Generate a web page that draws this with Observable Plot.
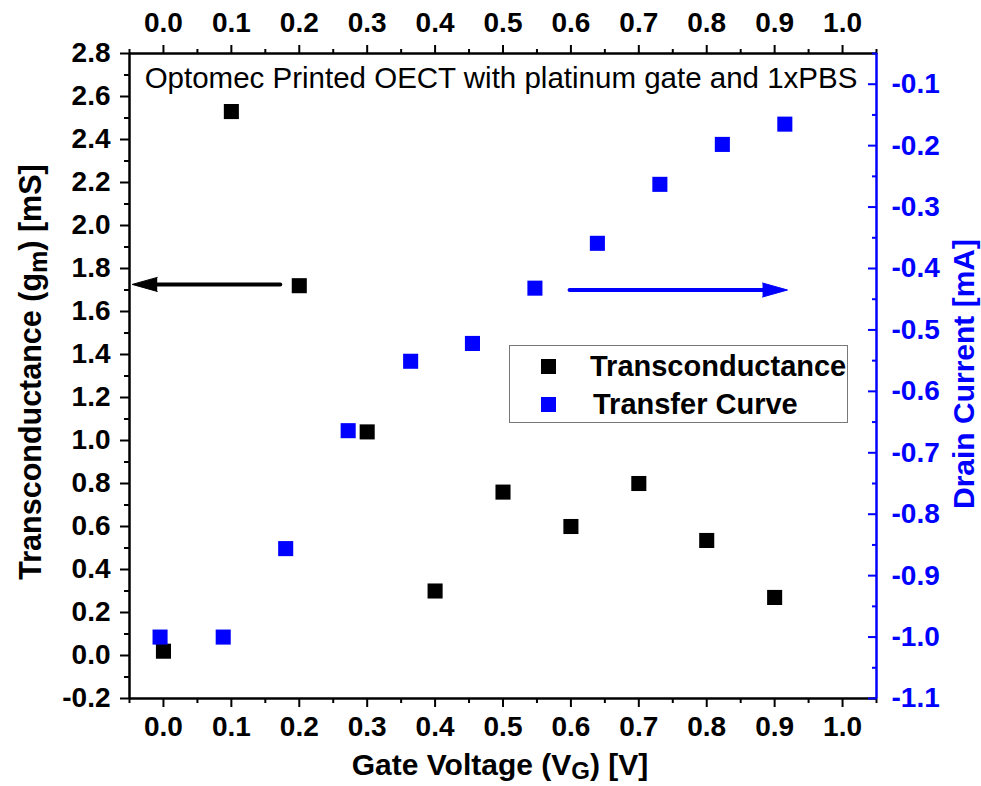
<!DOCTYPE html>
<html><head><meta charset="utf-8">
<script src="https://cdn.jsdelivr.net/npm/d3@7"></script>
<script src="https://cdn.jsdelivr.net/npm/@observablehq/plot@0.6"></script>
<style>
body{margin:0;background:#fff;}
#wrap{position:relative;width:981px;height:786px;font-family:"Liberation Sans",Arial,sans-serif;}
#legend{position:absolute;left:509px;top:345px;width:339px;height:78px;border:1.5px solid #777;box-sizing:border-box;background:#fff;font-weight:bold;font-size:29px;}
#legend .row{position:absolute;left:0;height:34px;line-height:34px;white-space:nowrap;}
#legend .sw{position:absolute;left:31px;top:10px;width:15px;height:15px;}
#legend .lab{position:absolute;left:80px;top:0;}
</style></head><body><div id="wrap"></div>
<script>
// Data
const gateV = [0.0, 0.1, 0.2, 0.3, 0.4, 0.5, 0.6, 0.7, 0.8, 0.9];
const transconductance = [0.02, 2.53, 1.72, 1.04, 0.30, 0.76, 0.60, 0.80, 0.535, 0.27];
const transferV = [-0.005, 0.088, 0.18, 0.272, 0.364, 0.455, 0.547, 0.639, 0.731, 0.823, 0.915];
const drainCurrent = [-1.0, -1.0, -0.856, -0.664, -0.551, -0.522, -0.432, -0.359, -0.263, -0.198, -0.165];

// Tick labels
const xTicks = [0.0, 0.1, 0.2, 0.3, 0.4, 0.5, 0.6, 0.7, 0.8, 0.9, 1.0];
const leftTicks = [-0.2, 0.0, 0.2, 0.4, 0.6, 0.8, 1.0, 1.2, 1.4, 1.6, 1.8, 2.0, 2.2, 2.4, 2.6, 2.8];
const rightTicks = [-1.1, -1.0, -0.9, -0.8, -0.7, -0.6, -0.5, -0.4, -0.3, -0.2, -0.1];
const xMinor = [-0.05, 0.05, 0.15, 0.25, 0.35, 0.45, 0.55, 0.65, 0.75, 0.85, 0.95, 1.05];
const leftMinor = [-0.1, 0.1, 0.3, 0.5, 0.7, 0.9, 1.1, 1.3, 1.5, 1.7, 1.9, 2.1, 2.3, 2.5, 2.7];
const rightMinor = [-1.05, -0.95, -0.85, -0.75, -0.65, -0.55, -0.45, -0.35, -0.25, -0.15, -0.05];

// Annotation arrows (data coordinates)
const leftArrow = {from: 0.172, to: -0.046, y: 1.726};
const rightArrow = {from: 0.598, to: 0.919, y: -0.435};

const titleText = "Optomec Printed OECT with platinum gate and 1xPBS";

const xDomain = [-0.05, 1.05];
const yDomain = [-0.2, 2.8];
const rDomain = [-1.1, -0.05];
const toLeft = v => yDomain[0] + (v - rDomain[0]) / (rDomain[1] - rDomain[0]) * (yDomain[1] - yDomain[0]);
const fromLeft = v => rDomain[0] + (v - yDomain[0]) / (yDomain[1] - yDomain[0]) * (rDomain[1] - rDomain[0]);
const fmt = d => (Math.abs(d) < 1e-9 ? 0 : d).toFixed(1);

const gmData = gateV.map((v, i) => ({v, g: transconductance[i]}));
const tcData = transferV.map((v, i) => ({v, i: drainCurrent[i]}));

const BLUE = "#0000ff";
const axisFont = {fontSize: 28, fontWeight: "bold"};

const plot = Plot.plot({
  width: 981, height: 786,
  marginLeft: 129, marginRight: 105, marginTop: 53, marginBottom: 88,
  style: {fontFamily: "'Liberation Sans', Arial, sans-serif", background: "white", overflow: "visible"},
  x: {domain: xDomain, axis: null},
  y: {domain: yDomain, axis: null},
  marks: [
    // frame lines
    Plot.ruleY([yDomain[0]], {stroke: "black", strokeWidth: 2.5}),
    Plot.ruleY([yDomain[1]], {stroke: "black", strokeWidth: 2.5}),
    Plot.ruleX([xDomain[0]], {stroke: "black", strokeWidth: 2.5}),
    Plot.ruleX([xDomain[1]], {stroke: BLUE, strokeWidth: 2.5}),
    // bottom axis
    Plot.axisX(xTicks, {anchor: "bottom", tickSize: 9, tickPadding: 9, strokeWidth: 2, tickFormat: fmt, label: null, ...axisFont}),
    Plot.axisX(xMinor, {anchor: "bottom", tickSize: 5, strokeWidth: 2, fill: "none", stroke: "black", label: null}),
    // top axis
    Plot.axisX(xTicks, {anchor: "top", tickSize: 9, tickPadding: 13, strokeWidth: 2, tickFormat: fmt, label: null, ...axisFont}),
    Plot.axisX(xMinor, {anchor: "top", tickSize: 5, strokeWidth: 2, fill: "none", stroke: "black", label: null}),
    // left axis
    Plot.axisY(leftTicks, {anchor: "left", tickSize: 9, tickPadding: 10, strokeWidth: 2, tickFormat: fmt, label: null, ...axisFont}),
    Plot.axisY(leftMinor, {anchor: "left", tickSize: 5, strokeWidth: 2, fill: "none", stroke: "black", label: null}),
    // right axis (drain current), ticks pointing inward
    Plot.axisY(rightTicks.map(toLeft), {anchor: "right", tickSize: -9, tickPadding: 24, strokeWidth: 2, color: BLUE, tickFormat: d => fmt(fromLeft(d)), label: null, ...axisFont}),
    Plot.axisY(rightMinor.map(toLeft), {anchor: "right", tickSize: -5, strokeWidth: 2, fill: "none", stroke: BLUE, label: null}),
    // title inside
    Plot.text([titleText], {frameAnchor: "top", lineAnchor: "middle", dy: 25, dx: -2, fontSize: 29.5, fill: "black"}),
    // arrows
    Plot.link([leftArrow], {x1: "from", x2: d => d.to + 0.03, y1: "y", y2: "y", stroke: "black", strokeWidth: 4, strokeLinecap: "round"}),
    Plot.vector([leftArrow], {x: "to", y: "y", anchor: "end", rotate: -90, length: 25, r: 7, shape: "spike", fill: "black", stroke: "black", strokeWidth: 1}),
    Plot.link([rightArrow], {x1: "from", x2: d => d.to - 0.03, y1: d => toLeft(d.y), y2: d => toLeft(d.y), stroke: BLUE, strokeWidth: 4, strokeLinecap: "round"}),
    Plot.vector([rightArrow], {x: "to", y: d => toLeft(d.y), anchor: "end", rotate: 90, length: 25, r: 7, shape: "spike", fill: BLUE, stroke: BLUE, strokeWidth: 1}),
    // data
    Plot.dot(gmData, {x: "v", y: "g", symbol: "square", r: 8.5, fill: "black"}),
    Plot.dot(tcData, {x: "v", y: d => toLeft(d.i), symbol: "square", r: 8.5, fill: BLUE})
  ]
});

const wrap = document.getElementById("wrap");
wrap.appendChild(plot);

// Axis titles with subscripts
const svg = d3.select(plot);
const ff = "'Liberation Sans', Arial, sans-serif";
const bt = svg.append("text").attr("x", 500).attr("y", 775).attr("text-anchor", "middle")
  .attr("font-family", ff).attr("font-weight", "bold").attr("font-size", 30).attr("fill", "black");
bt.append("tspan").text("Gate Voltage (V");
bt.append("tspan").attr("font-size", 24).attr("dy", 4).text("G");
bt.append("tspan").attr("dy", -4).text(") [V]");

const lt = svg.append("text").attr("transform", "translate(41,372) rotate(-90)").attr("text-anchor", "middle")
  .attr("font-family", ff).attr("font-weight", "bold").attr("font-size", 30.5).attr("fill", "black");
lt.append("tspan").text("Transconductance (g");
lt.append("tspan").attr("font-size", 25).attr("dy", 6).text("m");
lt.append("tspan").attr("dy", -6).text(") [mS]");

svg.append("text").attr("transform", "translate(974,374) rotate(-90)").attr("text-anchor", "middle")
  .attr("font-family", ff).attr("font-weight", "bold").attr("font-size", 30).attr("fill", BLUE)
  .text("Drain Current [mA]");

// Legend
const legend = document.createElement("div");
legend.id = "legend";
legend.innerHTML =
  `<div class="row" style="top:3px;width:100%"><div class="sw" style="background:#000"></div><div class="lab">Transconductance</div></div>` +
  `<div class="row" style="top:41px;width:100%"><div class="sw" style="background:${BLUE}"></div><div class="lab" style="left:83px">Transfer Curve</div></div>`;
wrap.appendChild(legend);
</script>
</body></html>
